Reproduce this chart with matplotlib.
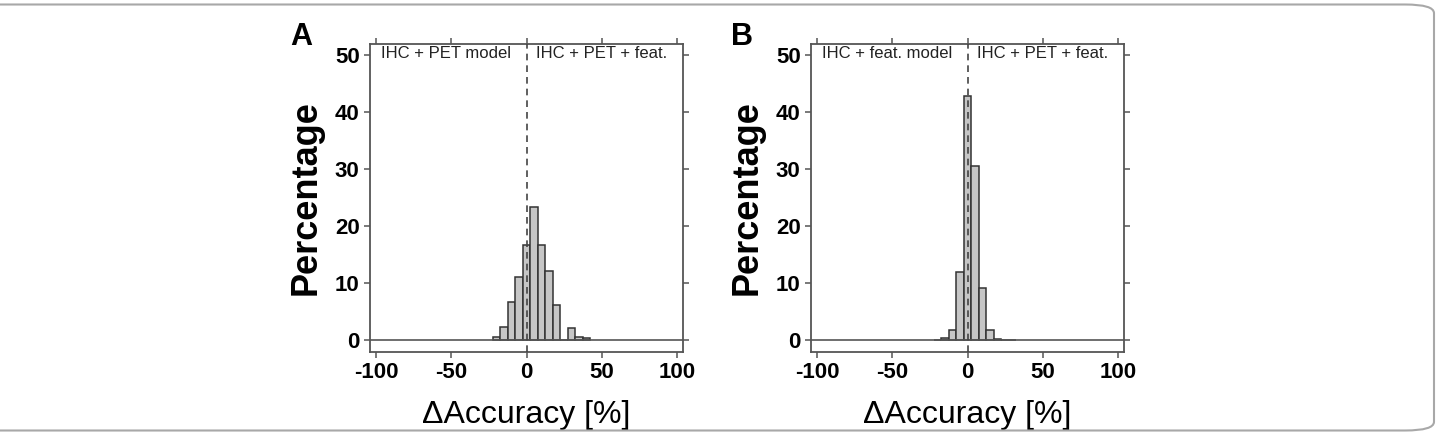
import numpy as np
import matplotlib
matplotlib.use("Agg")
import matplotlib.pyplot as plt
from matplotlib.patches import FancyBboxPatch

plt.rcParams['font.family'] = ['Liberation Sans', 'DejaVu Sans']
plt.rcParams['axes.unicode_minus'] = False

# Daten: Bin-Mitten (Breite 5) und Prozentwerte
centers_a = [-20, -15, -10, -5, 0, 5, 10, 15, 20, 25, 30, 35, 40]
perc_a = [0.6, 2.3, 6.7, 11.0, 16.7, 23.4, 16.7, 12.1, 6.1, 0.0, 2.2, 0.6, 0.3]

centers_b = [-20, -15, -10, -5, 0, 5, 10, 15, 20, 25, 30]
perc_b = [0.1, 0.3, 1.7, 11.9, 42.8, 30.6, 9.1, 1.7, 0.2, 0.0, 0.1]

xticks = [-100, -50, 0, 50, 100]
yticks = [0, 10, 20, 30, 40, 50]

panels = [
    ("A", centers_a, perc_a, "IHC + PET model", "IHC + PET + feat.", 370),
    ("B", centers_b, perc_b, "IHC + feat. model", "IHC + PET + feat.", 811),
]

W, H = 1437, 432
fig = plt.figure(figsize=(W / 100, H / 100), dpi=100)

# Rahmen um die Abbildung (linke Seite ausserhalb des Bildes)
frame = FancyBboxPatch((-40 / W, 1.5 / H), (1474 / W), (426 / H),
                       boxstyle="round,pad=0,rounding_size=0.02",
                       transform=fig.transFigure, fill=False,
                       edgecolor="#a8a8a8", linewidth=1.5)
fig.patches.append(frame)

axcol = "#555555"
for letter, cx, py, txt_l, txt_r, left in panels:
    ax = fig.add_axes([left / W, 1 - 351.5 / H, 313 / W, 308 / H])
    ax.bar(cx, py, width=5, color="#c6c6c6", edgecolor="#333333", linewidth=1.1, zorder=2)
    ax.axhline(0, color=axcol, linewidth=1.2, zorder=3)
    ax.axvline(0, color="#444444", linewidth=1.2, linestyle=(0, (4, 3)), zorder=4)
    ax.set_xlim(-104, 104)
    ax.set_ylim(-2, 52)
    ax.set_xticks(xticks)
    ax.set_yticks(yticks)
    ax.tick_params(direction="out", length=4.5, width=1.1, color=axcol,
                   top=True, right=True, labelsize=16, pad=3)
    for lab in ax.get_xticklabels() + ax.get_yticklabels():
        lab.set_fontweight("bold")
    for s in ax.spines.values():
        s.set_color(axcol)
        s.set_linewidth(1.3)
    ax.set_xlabel("ΔAccuracy [%]", fontsize=23, labelpad=12)
    ax.set_ylabel("Percentage", fontsize=26, fontweight="bold", labelpad=8)
    ax.text(-97, 50.2, txt_l, fontsize=12, ha="left", va="center", color="#222222")
    ax.text(6, 50.2, txt_r, fontsize=12, ha="left", va="center", color="#222222")
    ax.text(-0.256, 0.995, letter, transform=ax.transAxes, fontsize=22,
            fontweight="bold", ha="left", va="baseline")

fig.savefig("out.png", dpi=100)
